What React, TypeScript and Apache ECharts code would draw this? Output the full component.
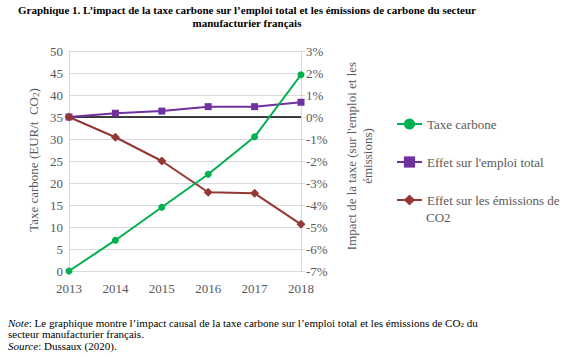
import React, { useEffect, useRef } from "react";
import * as echarts from "echarts";

const years = ["2013", "2014", "2015", "2016", "2017", "2018"];
const taxeCarbone = [0, 7, 14.5, 22, 30.5, 44.6];
const effetEmploi = [0, 0.17, 0.27, 0.47, 0.47, 0.67];
const effetEmissions = [0, -0.92, -2.0, -3.42, -3.47, -4.88];
const leftTicks = { min: 0, max: 50, interval: 5 };
const rightTicks = { min: -7, max: 3, interval: 1 };

const FONT = "Liberation Serif";
const GRAY = "#595959";
const GRID = "#D9D9D9";

export default function App() {
  const ref = useRef<HTMLDivElement>(null);
  useEffect(() => {
    if (!ref.current) return;
    const chart = echarts.init(ref.current, undefined, { renderer: "svg" });
    chart.setOption({
      animation: false,
      textStyle: { fontFamily: FONT },
      grid: { left: 69, right: 273, top: 51, bottom: 87, containLabel: false },
      legend: {
        orient: "vertical",
        left: 391,
        top: 111,
        itemWidth: 25,
        itemHeight: 14,
        itemGap: 22,
        textStyle: { fontFamily: FONT, fontSize: 13, color: GRAY, lineHeight: 16 },
        formatter: (n: string) => (n === "Effet sur les émissions de CO2" ? "Effet sur les émissions de" : n),
        data: ["Taxe carbone", "Effet sur l'emploi total", "Effet sur les émissions de CO2"],
      },
      xAxis: {
        type: "category",
        data: years,
        boundaryGap: false,
        axisLine: { show: true, lineStyle: { color: GRID } },
        axisTick: { show: false },
        axisLabel: { color: GRAY, fontSize: 13, fontFamily: FONT, margin: 11 },
        splitLine: { show: false },
      },
      yAxis: [
        {
          type: "value",
          ...leftTicks,
          axisLine: { show: true, lineStyle: { color: GRID } },
          axisTick: { show: false },
          axisLabel: { color: GRAY, fontSize: 13, fontFamily: FONT, margin: 6 },
          splitLine: { show: true, lineStyle: { color: GRID, width: 1 } },
        },
        {
          type: "value",
          position: "right",
          ...rightTicks,
          axisLine: { show: true, lineStyle: { color: GRID } },
          axisTick: { show: true, length: 4, lineStyle: { color: GRID } },
          axisLabel: { color: GRAY, fontSize: 13, fontFamily: FONT, margin: 5, formatter: (v: number) => v + "%" },
          splitLine: { show: false },
        },
      ],
      series: [
        {
          name: "Effet sur l'emploi total",
          type: "line",
          yAxisIndex: 1,
          data: effetEmploi,
          symbol: "rect",
          symbolSize: 7,
          itemStyle: { color: "#7030A0" },
          lineStyle: { color: "#7030A0", width: 2 },
          z: 3,
          markLine: {
            silent: true,
            symbol: ["none", "none"],
            label: { show: false },
            lineStyle: { color: "#000000", width: 1.5, type: "solid" },
            data: [{ yAxis: 0 }],
            z: 2,
          },
        },
        {
          name: "Effet sur les émissions de CO2",
          type: "line",
          yAxisIndex: 1,
          data: effetEmissions,
          symbol: "diamond",
          symbolSize: 9,
          itemStyle: { color: "#953735" },
          lineStyle: { color: "#953735", width: 2 },
          z: 4,
        },
        {
          name: "Taxe carbone",
          type: "line",
          yAxisIndex: 0,
          data: taxeCarbone,
          symbol: "circle",
          symbolSize: 7,
          itemStyle: { color: "#00B050" },
          lineStyle: { color: "#00B050", width: 2 },
          z: 5,
        },
      ],
      graphic: [
        {
          type: "text",
          x: 247,
          y: 3,
          style: {
            text: "Graphique 1. L\u2019impact de la taxe carbone sur l\u2019emploi total et les émissions de carbone du secteur\nmanufacturier français",
            font: `bold 11px ${FONT}`,
            fill: "#000",
            textAlign: "center",
            lineHeight: 13,
          },
        },
        {
          type: "text",
          x: 33,
          y: 160,
          rotation: Math.PI / 2,
          style: {
            text: "Taxe carbone (EUR/t  CO{sub|2})",
            font: `13px ${FONT}`,
            fill: GRAY,
            textAlign: "center",
            textVerticalAlign: "middle",
            rich: { sub: { fontSize: 9, fontFamily: FONT, fill: GRAY, padding: [5, 0, 0, 0] } },
          },
        },
        {
          type: "text",
          x: 359,
          y: 156,
          rotation: Math.PI / 2,
          style: {
            text: "Impact de la taxe (sur l'emploi et les\némissions)",
            font: `13px ${FONT}`,
            fill: GRAY,
            textAlign: "center",
            textVerticalAlign: "middle",
            lineHeight: 16,
          },
        },
        {
          type: "text",
          x: 426,
          y: 217,
          style: {
            text: "CO2",
            font: `13px ${FONT}`,
            fill: GRAY,
            textVerticalAlign: "middle",
          },
        },
        {
          type: "text",
          x: 8,
          y: 317,
          style: {
            text:
              "{i|Note}: Le graphique montre l\u2019impact causal de la taxe carbone sur l\u2019emploi total et les émissions de CO{sub|2} du\nsecteur manufacturier français.\n{i|Source}: Dussaux (2020).",
            font: `11px ${FONT}`,
            fill: "#000",
            lineHeight: 11.5,
            rich: {
              i: { fontStyle: "italic", fontSize: 11, fontFamily: FONT, fill: "#000", lineHeight: 11.5 },
              sub: { fontSize: 7, fontFamily: FONT, fill: "#000", lineHeight: 11.5, padding: [4, 0, 0, 0] },
            },
          },
        },
      ],
    });
    return () => chart.dispose();
  }, []);
  return <div ref={ref} style={{ width: 574, height: 358, position: "absolute", left: 0, top: 0 }} />;
}
